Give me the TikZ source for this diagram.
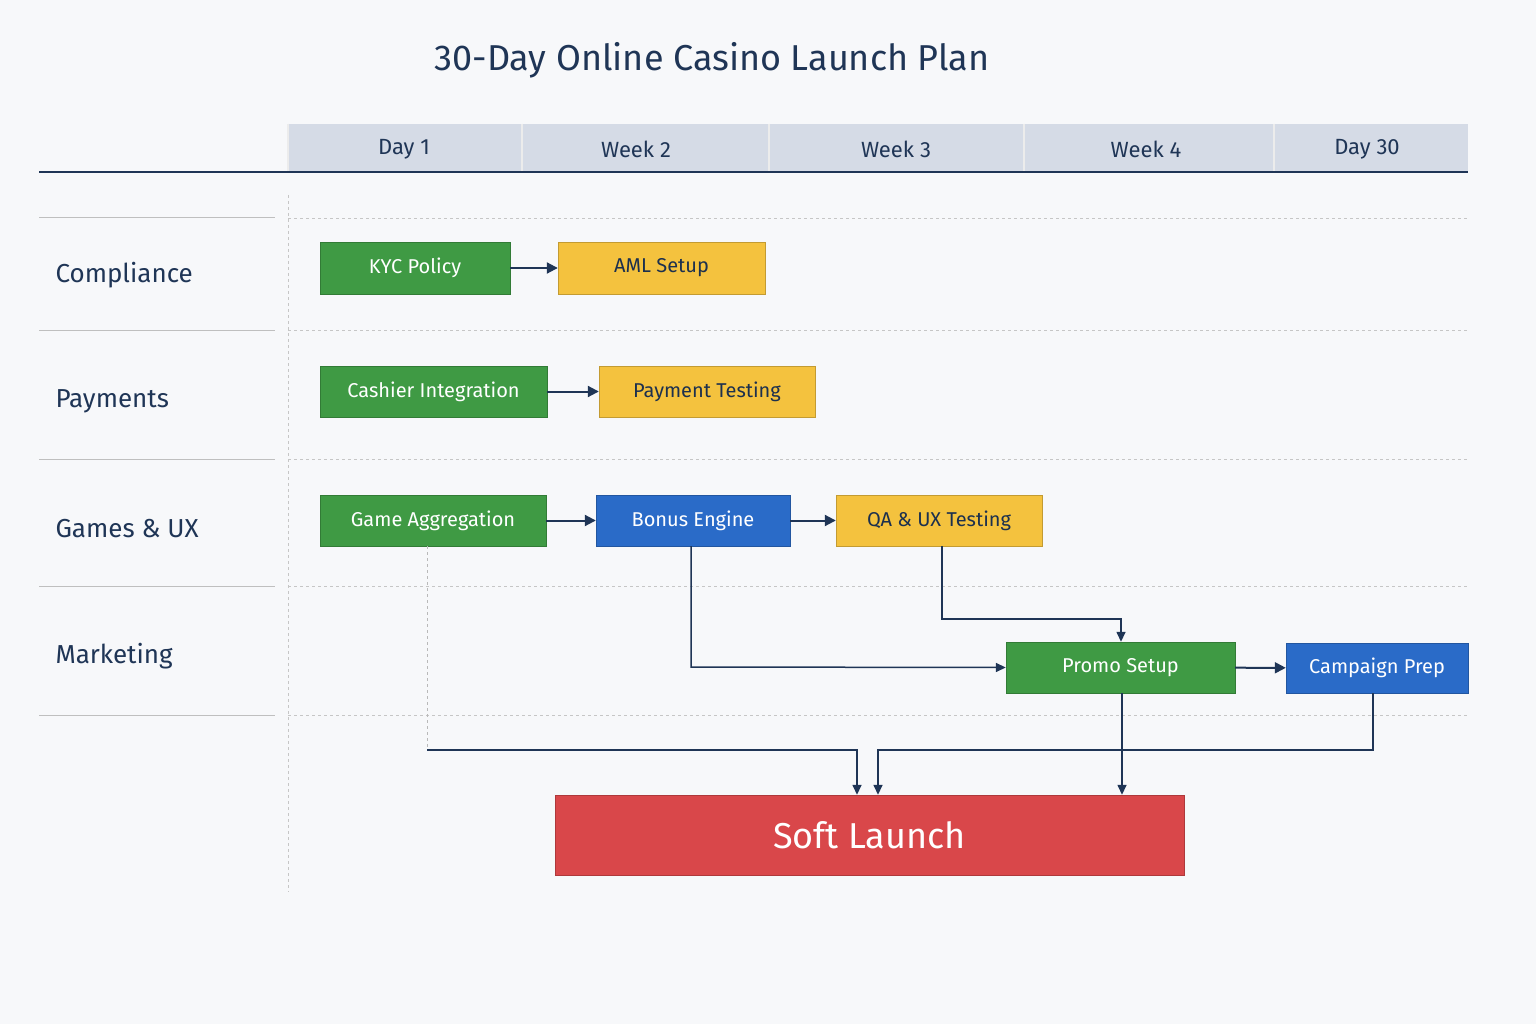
\documentclass[tikz,border=0pt]{standalone}
\usepackage{fontspec}
\setmainfont{Fira Sans}
\usetikzlibrary{arrows.meta}
\definecolor{navy}{HTML}{1F3556}
\definecolor{gr}{HTML}{3F9A44}
\definecolor{ye}{HTML}{F4C23E}
\definecolor{bl}{HTML}{2A6BC8}
\definecolor{rd}{HTML}{D9474A}
\definecolor{hd}{HTML}{D5DBE6}
\definecolor{bg}{HTML}{F7F8FA}
\tikzset{
 task/.style={draw=#1!80!black,fill=#1,text=white,font=\fontsize{20}{22}\selectfont,inner sep=0pt},
 ytask/.style={draw=ye!80!black,fill=ye,text=navy!90!black,font=\fontsize{20}{22}\selectfont,inner sep=0pt},
 conn/.style={navy,line width=2pt,-{Triangle[length=11pt,width=11pt]}},
 thin/.style={navy,line width=1.5pt,-{Triangle[length=10pt,width=9pt]}},
 lane/.style={font=\fontsize{26}{28}\selectfont,text=navy,anchor=west},
 hdr/.style={font=\fontsize{22}{24}\selectfont,text=navy},
 sep/.style={gray!50,line width=1pt},
 dsep/.style={gray!45,dashed,line width=0.8pt}
}
\begin{document}
\begin{tikzpicture}[x=1pt,y=-1pt]
\fill[bg] (0,0) rectangle (1536,1024);
\useasboundingbox (0,0) rectangle (1536,1024);
\node[font=\fontsize{36}{40}\selectfont,text=navy] (title) at (712,60) {30-Day Online Casino Launch Plan};
% header
\fill[hd] (288,124) rectangle (1468,172);
\foreach \x in {288,522,769,1024,1274} \draw[white!85!gray,line width=1.2pt] (\x,124)--(\x,172);
\draw[navy,line width=1.5pt] (39,172)--(1468,172);
\node[hdr] (h1) at (404,149) {Day 1};
\node[hdr] (h2) at (636,149) {Week 2};
\node[hdr] (h3) at (896,149) {Week 3};
\node[hdr] (h4) at (1146,149) {Week 4};
\node[hdr] (h5) at (1367,149) {Day 30};
% lanes
\foreach \y in {218,330,459,586,715} {
 \draw[sep] (39,\y)--(275,\y);
 \draw[dsep] (288,\y)--(1468,\y);
}
\draw[dsep] (288,195)--(288,892);
\node[lane] (l1) at (52,275) {Compliance};
\node[lane] (l2) at (52,401) {Payments};
\node[lane] (l3) at (52,529) {Games \& UX};
\node[lane] (l4) at (52,656) {Marketing};
% tasks
\node[task=gr,minimum width=190pt,minimum height=52pt] (kyc) at (415,268) {KYC Policy};
\node[ytask,minimum width=207pt,minimum height=52pt] (aml) at (661.5,268) {AML Setup};
\node[task=gr,minimum width=227pt,minimum height=51pt] (cash) at (433.5,391.5) {Cashier Integration};
\node[ytask,minimum width=216pt,minimum height=51pt] (pay) at (707,391.5) {Payment Testing};
\node[task=gr,minimum width=226pt,minimum height=51pt] (agg) at (433,520.5) {Game Aggregation};
\node[task=bl,minimum width=194pt,minimum height=51pt] (bon) at (693,520.5) {Bonus Engine};
\node[ytask,minimum width=206pt,minimum height=51pt] (qa) at (939,520.5) {QA \& UX Testing};
\node[task=gr,minimum width=229pt,minimum height=51pt] (promo) at (1120.5,667.5) {Promo Setup};
\node[task=bl,minimum width=182pt,minimum height=50pt] (camp) at (1377,668) {Campaign Prep};
\node[task=rd,minimum width=629pt,minimum height=80pt,font=\fontsize{36}{40}\selectfont] (soft) at (869.5,835) {Soft Launch};
% connectors
\draw[conn] (kyc) -- (aml);
\draw[conn] (cash) -- (pay);
\draw[conn] (agg) -- (bon);
\draw[conn] (bon) -- (qa);
\draw[conn] (promo) -- (camp);
\draw[thin] (bon.south -| 691,0) -- (691,667) -- (promo.west);
\draw[thin] (qa.south -| 942,0) -- (942,619) -- (1121,619) -- (promo.north -| 1121,0);
\draw[gray!55,dashed,line width=1pt] (agg.south -| 427,0) -- (427,750);
\draw[thin] (427,750) -- (857,750) -- (soft.north -| 857,0);
\draw[thin] (camp.south -| 1373,0) -- (1373,750) -- (878,750) -- (soft.north -| 878,0);
\draw[thin] (promo.south -| 1122,0) -- (soft.north -| 1122,0);
\end{tikzpicture}
\end{document}
